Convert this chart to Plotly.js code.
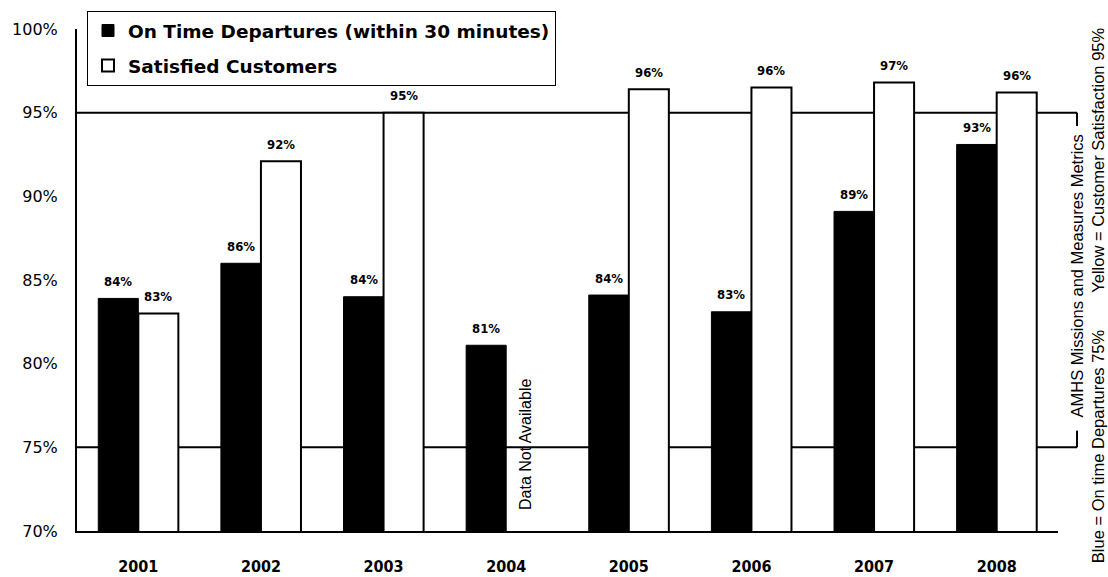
<!DOCTYPE html>
<html>
<head>
<meta charset="utf-8">
<script src="https://cdn.plot.ly/plotly-3.0.1.min.js"></script>
<style>html,body{margin:0;padding:0;background:#fff;}#chart{width:1108px;height:577px;}</style>
</head>
<body>
<div id="chart"></div>
<script>
// ---- data ----
const years = ['2001','2002','2003','2004','2005','2006','2007','2008'];
const onTime = [83.9, 86.0, 84.0, 81.1, 84.1, 83.1, 89.1, 93.1];
const onTimeLabels = ['84%','86%','84%','81%','84%','83%','89%','93%'];
const satisfied = [83.0, 92.1, 95.0, null, 96.4, 96.5, 96.8, 96.2];
const satisfiedLabels = ['83%','92%','95%','','96%','96%','97%','96%'];
const targetOnTime = 75;
const targetSatisfaction = 95;
const yTicks = [70, 75, 80, 85, 90, 95, 100];
const yTickLabels = ['70%','75%','80%','85%','90%','95%','100%'];

const labelFont = {family: '"Liberation Sans Narrow", "DejaVu Sans Condensed", Arial, sans-serif', size: 13, color: '#000', weight: 'bold'};
const noteFont = {family: '"Liberation Sans", Arial, sans-serif', size: 16.5, color: '#000'};

const traces = [
  {type: 'bar', name: 'On Time Departures (within 30 minutes)', x: years, y: onTime,
   marker: {color: '#000', line: {color: '#000', width: 1}}, legendgroup: 'a', hoverinfo: 'y'},
  {type: 'bar', name: 'Satisfied Customers', x: years, y: satisfied,
   marker: {color: '#fff', line: {color: '#000', width: 2}}, legendgroup: 'b', hoverinfo: 'y'}
];

const annotations = [];
years.forEach((yr, i) => {
  annotations.push({x: i, y: onTime[i], xref: 'x', yref: 'y', text: onTimeLabels[i], showarrow: false,
    xshift: -20, yshift: 17, font: labelFont});
  if (satisfied[i] !== null) {
    annotations.push({x: i, y: satisfied[i], xref: 'x', yref: 'y', text: satisfiedLabels[i], showarrow: false,
      xshift: 20, yshift: 17, font: labelFont});
  }
});
annotations.push({x: 3, y: 75.15, xref: 'x', yref: 'y', xshift: 20, text: 'Data Not Available', textangle: -90,
  xanchor: 'center', yanchor: 'middle', showarrow: false, font: {family: '"Liberation Sans", Arial, sans-serif', size: 16, color: '#000'}});
annotations.push({x: 1.0194, y: 0.507, xref: 'paper', yref: 'paper', text: 'AMHS Missions and Measures Metrics', textangle: -90,
  xanchor: 'center', yanchor: 'middle', showarrow: false, font: noteFont});
annotations.push({x: 1.0408, y: 0.169, xref: 'paper', yref: 'paper', text: 'Blue = On time Departures 75%', textangle: -90,
  xanchor: 'center', yanchor: 'middle', showarrow: false, font: noteFont});
annotations.push({x: 1.0408, y: 0.7376, xref: 'paper', yref: 'paper', text: 'Yellow = Customer Satisfaction 95%', textangle: -90,
  xanchor: 'center', yanchor: 'middle', showarrow: false, font: noteFont});

const bx = 1.0194;
const shapes = [
  {type: 'line', xref: 'paper', yref: 'y', x0: 0, x1: bx, y0: targetSatisfaction, y1: targetSatisfaction, layer: 'below', line: {color: '#000', width: 2}},
  {type: 'line', xref: 'paper', yref: 'y', x0: 0, x1: bx, y0: targetOnTime, y1: targetOnTime, layer: 'below', line: {color: '#000', width: 2}},
  {type: 'line', xref: 'paper', yref: 'y', x0: bx, x1: bx, y0: targetSatisfaction, y1: 94.2, layer: 'below', line: {color: '#000', width: 2}},
  {type: 'line', xref: 'paper', yref: 'y', x0: bx, x1: bx, y0: targetOnTime, y1: 76.0, layer: 'below', line: {color: '#000', width: 2}}
];

const layout = {
  width: 1108, height: 577,
  margin: {l: 77, r: 50, t: 28, b: 46},
  paper_bgcolor: '#fff', plot_bgcolor: '#fff',
  barmode: 'group', bargap: 0.347, bargroupgap: 0,
  showlegend: true,
  legend: {x: 0.0102, y: 1.0338, xanchor: 'left', yanchor: 'top', bordercolor: '#000', borderwidth: 1,
    bgcolor: '#fff', traceorder: 'grouped', tracegroupgap: 8,
    font: {family: '"DejaVu Sans", Arial, sans-serif', size: 18.5, color: '#000', weight: 'bold'}},
  xaxis: {type: 'category', range: [-0.5, 7.5], autorange: false, showline: true, linecolor: '#000', linewidth: 2, showgrid: false, zeroline: false,
    ticks: '', ticklabelstandoff: 20, tickfont: {family: '"Liberation Sans Narrow", "DejaVu Sans Condensed", Arial, sans-serif', size: 16, color: '#000', weight: 'bold'},
    fixedrange: true},
  yaxis: {range: [70, 100], autorange: false, showline: true, linecolor: '#000', linewidth: 2, showgrid: false, zeroline: false,
    tickvals: yTicks, ticktext: yTickLabels, ticks: '', ticklabelstandoff: 14,
    tickfont: {family: '"DejaVu Sans", Verdana, sans-serif', size: 16, color: '#000'}, fixedrange: true},
  annotations: annotations,
  shapes: shapes
};

Plotly.newPlot('chart', traces, layout, {displayModeBar: false, staticPlot: true});
</script>
</body>
</html>
